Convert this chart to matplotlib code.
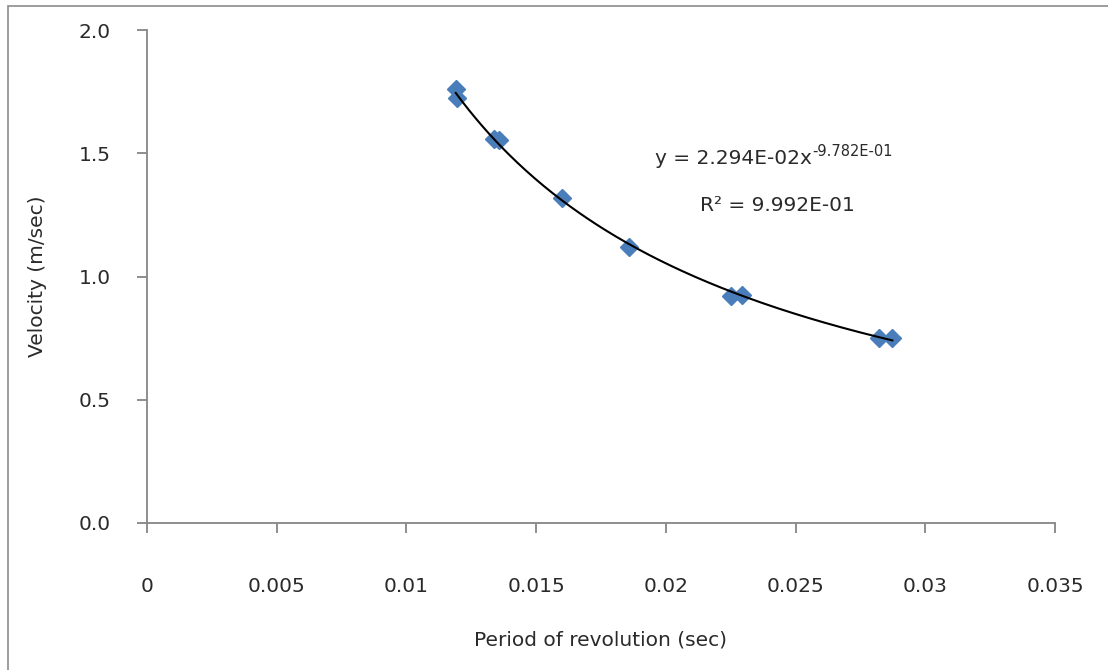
import matplotlib.pyplot as plt
import numpy as np
from matplotlib.patches import Rectangle

plt.rcParams['font.family'] = ['DejaVu Sans']

# measured points (period in s, velocity in m/s)
period = [0.01190, 0.01194, 0.01336, 0.01355, 0.01598, 0.01859, 0.02251, 0.02292, 0.02823, 0.02873]
velocity = [1.759, 1.723, 1.556, 1.553, 1.317, 1.121, 0.922, 0.925, 0.752, 0.752]

x_ticks = [0, 0.005, 0.01, 0.015, 0.02, 0.025, 0.03, 0.035]
x_ticklabels = ['0', '0.005', '0.01', '0.015', '0.02', '0.025', '0.03', '0.035']
y_ticks = [0.0, 0.5, 1.0, 1.5, 2.0]
y_ticklabels = ['0.0', '0.5', '1.0', '1.5', '2.0']

eq_text = 'y = 2.294E-02x'
eq_exp = '-9.782E-01'
r2_text = 'R² = 9.992E-01'

txt = '#2a2a2a'
fs = 14.5

W, H = 1108, 670
fig = plt.figure(figsize=(W / 100, H / 100), dpi=100)
ax = fig.add_axes([147 / W, 1 - 523 / H, (1055 - 147) / W, (523 - 30) / H])

# outer chart frame (only left/top visible)
fig.patches.append(Rectangle((8 / W, -0.5), 2, 1.5 - 6 / H, transform=fig.transFigure,
                             fill=False, edgecolor='#8c8c8c', lw=1.2, zorder=0))

# power-law trendline fitted in log space
p = np.polyfit(np.log(period), np.log(velocity), 1)
xf = np.linspace(min(period), max(period), 200)
ax.plot(xf, np.exp(p[1]) * xf ** p[0], color='black', lw=1.5, zorder=3)

ax.plot(period, velocity, 'D', color='#4a7ebb', ms=9, mec='#4a7ebb', zorder=2, clip_on=False)

ax.set_xlim(0, 0.035)
ax.set_ylim(0, 2.0)
ax.set_xticks(x_ticks)
ax.set_xticklabels(x_ticklabels)
ax.set_yticks(y_ticks)
ax.set_yticklabels(y_ticklabels)

for s in ['top', 'right']:
    ax.spines[s].set_visible(False)
for s in ['left', 'bottom']:
    ax.spines[s].set_color('#868686')
    ax.spines[s].set_linewidth(1.3)

ax.tick_params(axis='x', direction='out', length=7, width=1.3, color='#868686',
               labelsize=fs, pad=32, labelcolor=txt)
ax.tick_params(axis='y', direction='out', length=7, width=1.3, color='#868686',
               labelsize=fs, pad=19, labelcolor=txt)

ax.set_xlabel('Period of revolution (sec)', fontsize=fs, color=txt, labelpad=25)
ax.set_ylabel('Velocity (m/sec)', fontsize=fs, color=txt, labelpad=23)

t = ax.text(0.01958, 1.455, eq_text, fontsize=fs, ha='left', va='baseline', color=txt)
ax.annotate(eq_exp, xy=(1, 0), xycoords=t, xytext=(0, 7), textcoords='offset points',
            fontsize=10.5, ha='left', va='bottom', color=txt)
ax.text(0.0243, 1.29, r2_text, fontsize=fs, ha='center', va='center', color=txt)

fig.savefig('out.png', dpi=100)
